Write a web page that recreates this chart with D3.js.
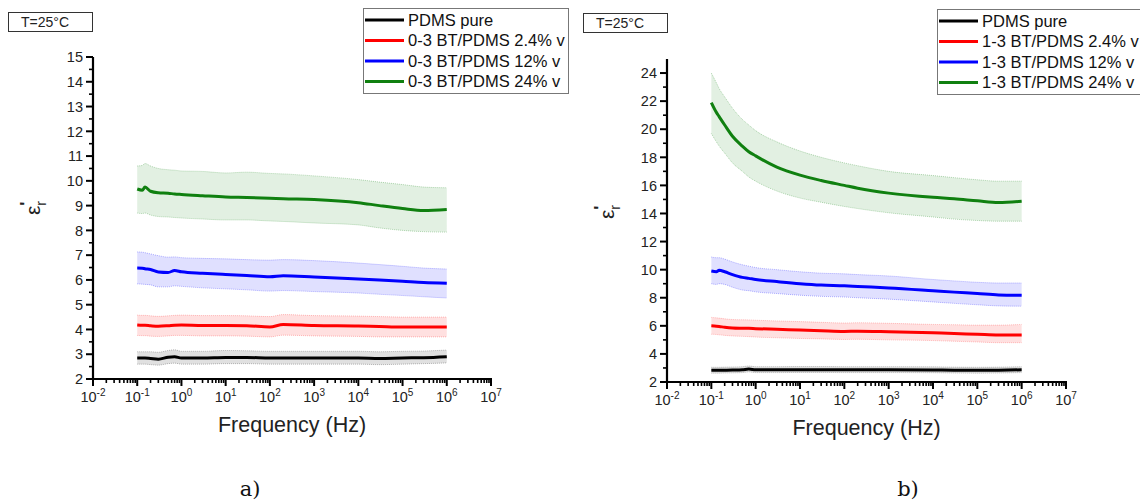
<!DOCTYPE html>
<html>
<head>
<meta charset="utf-8">
<script src="https://cdn.jsdelivr.net/npm/d3@7"></script>
<style>
  html, body { margin: 0; padding: 0; background: #fff; }
  svg { display: block; font-family: "Liberation Sans", Arial, sans-serif; }
</style>
</head>
<body>
<svg id="chart" width="1140" height="501"></svg>
<script>
// ---------- DATA ----------
const freq = [0.1, 0.13, 0.15, 0.2, 0.3, 0.5, 0.7, 1, 3, 10, 30, 100, 200, 1e3, 1e4, 3e4, 1e5, 3e5, 1e6];

const seriesNamesA = ["PDMS pure", "0-3 BT/PDMS 2.4% v", "0-3 BT/PDMS 12% v", "0-3 BT/PDMS 24% v"];
const seriesNamesB = ["PDMS pure", "1-3 BT/PDMS 2.4% v", "1-3 BT/PDMS 12% v", "1-3 BT/PDMS 24% v"];
const seriesColors = ["#000000", "#ff0000", "#0000ff", "#108010"];

// Panel a) 0-3 composites
const a_pure    = [2.85,2.85,2.85,2.83,2.80,2.88,2.90,2.85,2.85,2.87,2.87,2.85,2.85,2.85,2.85,2.83,2.85,2.86,2.90];
const a_pure_hi = [3.10,3.10,3.10,3.10,3.08,3.15,3.18,3.12,3.12,3.15,3.14,3.12,3.12,3.12,3.12,3.10,3.12,3.13,3.17];
const a_pure_lo = [2.60,2.60,2.60,2.58,2.56,2.62,2.64,2.60,2.60,2.62,2.62,2.60,2.60,2.60,2.60,2.58,2.60,2.62,2.65];
const a_24    = [4.18,4.17,4.17,4.15,4.13,4.15,4.17,4.18,4.16,4.16,4.15,4.10,4.20,4.16,4.14,4.12,4.10,4.10,4.10];
const a_24_hi = [4.58,4.57,4.57,4.55,4.53,4.55,4.57,4.58,4.56,4.56,4.55,4.52,4.60,4.56,4.54,4.52,4.50,4.50,4.50];
const a_24_lo = [3.76,3.75,3.75,3.73,3.72,3.74,3.76,3.76,3.74,3.74,3.73,3.70,3.77,3.74,3.72,3.70,3.70,3.70,3.70];
const a_12    = [6.48,6.47,6.45,6.42,6.32,6.30,6.38,6.33,6.27,6.22,6.18,6.13,6.17,6.12,6.04,6.00,5.95,5.90,5.87];
const a_12_hi = [7.13,7.12,7.10,7.05,6.98,6.92,6.93,6.90,6.87,6.85,6.82,6.80,6.82,6.78,6.68,6.62,6.55,6.48,6.44];
const a_12_lo = [5.84,5.83,5.82,5.80,5.72,5.72,5.76,5.74,5.68,5.64,5.60,5.55,5.57,5.53,5.47,5.42,5.37,5.32,5.27];
const a_240    = [9.67,9.62,9.75,9.58,9.52,9.50,9.47,9.45,9.40,9.35,9.33,9.30,9.28,9.25,9.12,9.00,8.88,8.80,8.84];
const a_240_hi = [10.60,10.62,10.70,10.60,10.50,10.45,10.43,10.40,10.38,10.32,10.35,10.30,10.28,10.20,10.05,9.95,9.85,9.75,9.72];
const a_240_lo = [8.70,8.68,8.70,8.62,8.56,8.54,8.52,8.50,8.46,8.42,8.42,8.38,8.36,8.30,8.22,8.10,8.00,7.95,7.93];

// Panel b) 1-3 composites
const b_pure    = [2.83,2.83,2.83,2.84,2.85,2.87,2.92,2.87,2.87,2.88,2.88,2.87,2.87,2.87,2.86,2.84,2.83,2.84,2.87];
const b_pure_hi = [3.05,3.05,3.05,3.06,3.07,3.09,3.14,3.09,3.09,3.10,3.10,3.09,3.09,3.09,3.08,3.06,3.05,3.06,3.09];
const b_pure_lo = [2.63,2.63,2.63,2.64,2.65,2.67,2.72,2.67,2.67,2.68,2.68,2.67,2.67,2.67,2.66,2.64,2.63,2.64,2.67];
const b_24    = [6.00,5.97,5.95,5.90,5.85,5.83,5.82,5.80,5.75,5.70,5.65,5.60,5.62,5.58,5.50,5.45,5.40,5.35,5.35];
const b_24_hi = [6.60,6.57,6.55,6.50,6.45,6.43,6.42,6.40,6.35,6.30,6.25,6.20,6.22,6.18,6.10,6.08,6.05,6.05,6.10];
const b_24_lo = [5.40,5.38,5.36,5.32,5.28,5.25,5.23,5.20,5.15,5.10,5.07,5.03,5.04,5.00,4.95,4.90,4.85,4.80,4.80];
const b_12    = [9.90,9.85,9.95,9.85,9.65,9.45,9.38,9.30,9.15,9.00,8.90,8.85,8.80,8.70,8.50,8.40,8.30,8.20,8.17];
const b_12_hi = [10.90,10.85,10.85,10.75,10.55,10.35,10.25,10.15,10.00,9.85,9.75,9.70,9.65,9.55,9.30,9.20,9.10,9.05,9.05];
const b_12_lo = [9.00,8.95,9.00,8.95,8.75,8.55,8.50,8.42,8.30,8.18,8.10,8.05,8.00,7.90,7.70,7.60,7.50,7.42,7.40];
const b_240    = [21.90,21.20,20.90,20.30,19.50,18.80,18.40,18.10,17.30,16.73,16.35,16.00,15.80,15.45,15.15,15.05,14.90,14.78,14.87];
const b_240_hi = [24.00,23.30,22.90,22.30,21.50,20.70,20.30,19.90,19.10,18.45,18.00,17.60,17.40,17.00,16.70,16.55,16.40,16.30,16.30];
const b_240_lo = [19.70,19.10,18.80,18.30,17.60,17.00,16.60,16.30,15.60,15.10,14.80,14.50,14.35,14.05,13.75,13.60,13.50,13.45,13.45];

const xTickExps = [-2, -1, 0, 1, 2, 3, 4, 5, 6, 7];
const yTicksA = d3.range(2, 16, 1);
const yTicksB = d3.range(2, 25, 2);
const xAxisTitle = "Frequency (Hz)";
const tempLabel = "T=25°C";
const captions = ["a)", "b)"];

// ---------- DRAW ----------
const svg = d3.select("#chart");

function drawPanel(cfg) {
  const g = svg.append("g");
  const x = d3.scaleLog().domain([1e-2, 1e7]).range([cfg.x0, cfg.x1]);
  const y = d3.scaleLinear().domain(cfg.yDomain).range([cfg.yBottom, cfg.yTop]);

  const bandFill = ["rgba(0,0,0,0.12)", "rgba(255,0,0,0.12)", "rgba(0,0,255,0.12)", "rgba(16,128,16,0.12)"];
  const bandEdge = ["rgba(0,0,0,0.25)", "rgba(255,0,0,0.25)", "rgba(0,0,255,0.3)", "rgba(16,128,16,0.3)"];
  cfg.series.forEach((s, i) => {
    const pts = freq.map((f, k) => ({f, v: s.v[k], hi: s.hi[k], lo: s.lo[k]}));
    const area = d3.area().x(d => x(d.f)).y0(d => y(d.lo)).y1(d => y(d.hi)).curve(d3.curveMonotoneX);
    g.append("path").attr("d", area(pts)).attr("fill", bandFill[i]).attr("stroke", "none");
    ["hi", "lo"].forEach(key => {
      g.append("path")
        .attr("d", d3.line().x(d => x(d.f)).y(d => y(d[key])).curve(d3.curveMonotoneX)(pts))
        .attr("fill", "none").attr("stroke", bandEdge[i]).attr("stroke-width", 1)
        .attr("stroke-dasharray", "1,1");
    });
  });
  cfg.series.forEach((s, i) => {
    const pts = freq.map((f, k) => ({f, v: s.v[k]}));
    g.append("path")
      .attr("d", d3.line().x(d => x(d.f)).y(d => y(d.v)).curve(d3.curveMonotoneX)(pts))
      .attr("fill", "none").attr("stroke", seriesColors[i]).attr("stroke-width", 3)
      .attr("stroke-linejoin", "round");
  });

  // Y axis
  const ya = g.append("g").attr("transform", `translate(${cfg.x0},0)`);
  ya.append("line").attr("x1", 0).attr("x2", 0).attr("y1", cfg.yBottom + 1).attr("y2", cfg.yTop)
    .attr("stroke", "#000").attr("stroke-width", 2.2);
  cfg.yTicks.forEach(t => {
    ya.append("line").attr("x1", -7).attr("x2", 0).attr("y1", y(t)).attr("y2", y(t))
      .attr("stroke", "#000").attr("stroke-width", 2);
    ya.append("text").attr("x", -10).attr("y", y(t)).attr("dy", "0.36em")
      .attr("text-anchor", "end").attr("font-size", 14.5).attr("fill", "#222").text(t);
  });
  cfg.yMinor.forEach(t => {
    ya.append("line").attr("x1", -4).attr("x2", 0).attr("y1", y(t)).attr("y2", y(t))
      .attr("stroke", "#000").attr("stroke-width", 1.6);
  });

  // X axis
  const xa = g.append("g").attr("transform", `translate(0,${cfg.yBottom})`);
  xa.append("line").attr("x1", cfg.x0 - 1).attr("x2", cfg.x1 + 1).attr("y1", 0).attr("y2", 0)
    .attr("stroke", "#000").attr("stroke-width", 2.2);
  xTickExps.forEach(e => {
    const px = x(Math.pow(10, e));
    xa.append("line").attr("x1", px).attr("x2", px).attr("y1", 0).attr("y2", 7)
      .attr("stroke", "#000").attr("stroke-width", 2);
    const t = xa.append("text").attr("x", px).attr("y", 23).attr("text-anchor", "middle")
      .attr("font-size", 14.5).attr("fill", "#222");
    t.append("tspan").text("10");
    t.append("tspan").attr("font-size", 10).attr("dy", -6).text(e);
    if (e < 7) {
      for (let m = 2; m <= 9; m++) {
        const mx = x(m * Math.pow(10, e));
        xa.append("line").attr("x1", mx).attr("x2", mx).attr("y1", 0).attr("y2", 4)
          .attr("stroke", "#000").attr("stroke-width", 1.6);
      }
    }
  });

  // axis titles
  g.append("text").attr("x", (cfg.x0 + cfg.x1) / 2).attr("y", cfg.yBottom + 53)
    .attr("text-anchor", "middle").attr("font-size", 21.5).attr("fill", "#222").text(xAxisTitle);
  const yl = g.append("text")
    .attr("transform", `translate(${cfg.yLabelX},${cfg.yLabelY}) rotate(-90)`)
    .attr("text-anchor", "middle").attr("font-size", 21).attr("fill", "#222");
  yl.append("tspan").text("ε");
  yl.append("tspan").attr("font-size", 17).attr("font-weight", "bold").attr("dy", -8).text("'");
  yl.append("tspan").attr("font-size", 14).attr("dx", -4).attr("dy", 14).text("r");

  // temperature box
  g.append("rect").attr("x", cfg.tBox[0] + 0.5).attr("y", cfg.tBox[1] + 0.5)
    .attr("width", cfg.tBox[2]).attr("height", cfg.tBox[3])
    .attr("fill", "#fff").attr("stroke", "#333").attr("stroke-width", 1);
  g.append("text").attr("x", cfg.tBox[0] + 13).attr("y", cfg.tBox[1] + 14.5)
    .attr("font-size", 14).attr("fill", "#222").text(tempLabel);

  // legend
  const L = cfg.legend;
  g.append("rect").attr("x", L.x + 0.5).attr("y", L.y + 0.5).attr("width", L.w).attr("height", L.h)
    .attr("fill", "#fff").attr("stroke", "#777").attr("stroke-width", 1);
  cfg.names.forEach((n, i) => {
    const ry = L.y + 12 + i * 20.5;
    g.append("line").attr("x1", L.x + 2).attr("x2", L.x + 41).attr("y1", ry).attr("y2", ry)
      .attr("stroke", seriesColors[i]).attr("stroke-width", 3);
    g.append("text").attr("x", L.x + 45).attr("y", ry).attr("dy", "0.36em")
      .attr("font-size", 16.5).attr("fill", "#111").text(n);
  });

  // caption
  svg.append("text").attr("x", cfg.capX).attr("y", 496).attr("text-anchor", "middle")
    .style("font-family", "'DejaVu Serif', 'Liberation Serif', serif")
    .attr("font-size", 21).attr("fill", "#111").text(cfg.caption);
}

drawPanel({
  x0: 93, x1: 491, yTop: 57, yBottom: 379, yDomain: [2, 15],
  yTicks: yTicksA, yMinor: d3.range(2.5, 15, 1),
  yLabelX: 40, yLabelY: 208,
  tBox: [8, 12, 84, 19],
  legend: {x: 363, y: 8, w: 205, h: 85},
  names: seriesNamesA, caption: captions[0], capX: 250,
  series: [
    {v: a_pure, hi: a_pure_hi, lo: a_pure_lo},
    {v: a_24, hi: a_24_hi, lo: a_24_lo},
    {v: a_12, hi: a_12_hi, lo: a_12_lo},
    {v: a_240, hi: a_240_hi, lo: a_240_lo}
  ]
});

drawPanel({
  x0: 667, x1: 1066, yTop: 59, yBottom: 382, yDomain: [2, 25],
  yTicks: yTicksB, yMinor: d3.range(3, 25, 2),
  yLabelX: 614, yLabelY: 212,
  tBox: [583, 13, 84, 19],
  legend: {x: 937, y: 9, w: 210, h: 85},
  names: seriesNamesB, caption: captions[1], capX: 908,
  series: [
    {v: b_pure, hi: b_pure_hi, lo: b_pure_lo},
    {v: b_24, hi: b_24_hi, lo: b_24_lo},
    {v: b_12, hi: b_12_hi, lo: b_12_lo},
    {v: b_240, hi: b_240_hi, lo: b_240_lo}
  ]
});
</script>
</body>
</html>
